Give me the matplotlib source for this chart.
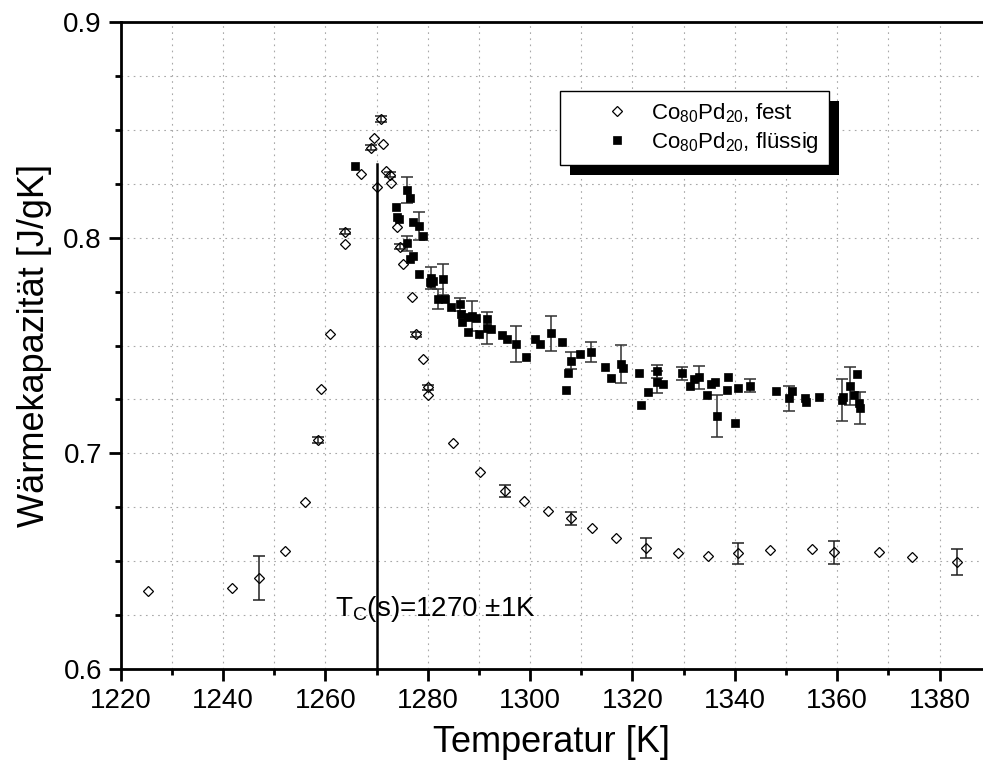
import numpy as np
import matplotlib
matplotlib.use("Agg")
import matplotlib.pyplot as plt
from matplotlib.ticker import MultipleLocator
from matplotlib.patches import Rectangle
from matplotlib.transforms import IdentityTransform

plt.rcParams['font.family'] = ['Liberation Sans', 'DejaVu Sans']
plt.rcParams['mathtext.fontset'] = 'custom'
plt.rcParams['mathtext.rm'] = 'Liberation Sans'
plt.rcParams['mathtext.it'] = 'Liberation Sans:italic'
plt.rcParams['mathtext.bf'] = 'Liberation Sans:bold'
plt.rcParams['mathtext.default'] = 'regular'

# ------------------ data ------------------

# Co80Pd20 solid (open diamonds)
fest_T = [1225.3, 1241.7, 1247.0, 1252.2, 1256.1, 1258.6, 1259.1, 1260.8, 1263.9, 1263.9,
          1266.9, 1268.9, 1269.5, 1270.0, 1270.8, 1271.2, 1271.9, 1272.6, 1272.8, 1274.0,
          1274.6, 1275.2, 1277.0, 1277.7, 1279.0, 1280.0, 1280.0, 1285.0, 1290.2, 1295.1,
          1298.8, 1303.4, 1307.9, 1312.1, 1316.7, 1322.6, 1328.9, 1334.8, 1340.6, 1346.8,
          1355.1, 1359.3, 1368.1, 1374.7, 1383.5]
fest_cp = [0.6363, 0.6376, 0.6422, 0.6548, 0.6774, 0.7062, 0.7300, 0.7555, 0.8027, 0.7969,
           0.8295, 0.8417, 0.8460, 0.8233, 0.8550, 0.8434, 0.8308, 0.8292, 0.8252, 0.8050,
           0.7958, 0.7880, 0.7724, 0.7553, 0.7437, 0.7306, 0.7270, 0.7046, 0.6915, 0.6825,
           0.6780, 0.6734, 0.6699, 0.6652, 0.6606, 0.6560, 0.6536, 0.6525, 0.6536, 0.6552,
           0.6556, 0.6541, 0.6541, 0.6518, 0.6495]
fest_err = [0, 0, 0.0103, 0, 0, 0.0012, 0, 0, 0.0012, 0,
            0, 0.0012, 0, 0, 0.0012, 0, 0, 0.0012, 0, 0,
            0.0012, 0, 0, 0.0012, 0, 0.0012, 0, 0, 0, 0.0027,
            0, 0, 0.003, 0, 0, 0.0046, 0, 0, 0.005, 0,
            0, 0.0052, 0, 0, 0.006]

# Co80Pd20 liquid (filled squares)
fl_T = [1265.8, 1273.7, 1273.9, 1274.4, 1275.9, 1276.0, 1276.5, 1276.6, 1277.2, 1277.2,
        1278.3, 1278.3, 1279.1, 1280.4, 1280.7, 1280.7, 1281.1, 1282.0, 1282.9, 1283.3,
        1284.6, 1286.3, 1286.4, 1286.7, 1287.8, 1287.8, 1288.7, 1289.5, 1290.0, 1291.5,
        1291.6, 1292.3, 1294.6, 1295.4, 1297.2, 1299.2, 1300.9, 1301.9, 1304.0, 1306.3,
        1307.1, 1307.4, 1308.0, 1309.7, 1311.9, 1314.7, 1315.8, 1317.7, 1318.1, 1321.3,
        1321.7, 1323.0, 1324.7, 1324.8, 1325.9, 1329.7, 1331.3, 1332.0, 1333.0, 1334.6,
        1335.4, 1336.2, 1336.6, 1338.4, 1338.7, 1340.1, 1340.6, 1343.0, 1348.0, 1350.6,
        1351.1, 1353.7, 1354.0, 1356.4, 1360.9, 1361.2, 1362.5, 1363.2, 1363.9, 1364.2,
        1364.4]
fl_cp = [0.8331, 0.8143, 0.8094, 0.8085, 0.8221, 0.7974, 0.7900, 0.8185, 0.8073, 0.7915,
         0.8054, 0.7830, 0.8009, 0.7796, 0.7814, 0.7788, 0.7799, 0.7715, 0.7807, 0.7715,
         0.7677, 0.7692, 0.7646, 0.7610, 0.7633, 0.7564, 0.7638, 0.7626, 0.7553, 0.7580,
         0.7621, 0.7575, 0.7548, 0.7529, 0.7507, 0.7445, 0.7529, 0.7507, 0.7556, 0.7515,
         0.7293, 0.7371, 0.7429, 0.7460, 0.7471, 0.7399, 0.7348, 0.7414, 0.7394, 0.7374,
         0.7225, 0.7283, 0.7380, 0.7332, 0.7321, 0.7371, 0.7314, 0.7344, 0.7352, 0.7270,
         0.7321, 0.7330, 0.7174, 0.7293, 0.7355, 0.7139, 0.7301, 0.7313, 0.7289, 0.7255,
         0.7290, 0.7255, 0.7240, 0.7260, 0.7247, 0.7262, 0.7312, 0.7270, 0.7366, 0.7232,
         0.7209]
fl_err = [0, 0, 0, 0, 0.0059, 0.0036, 0, 0, 0, 0,
          0.0063, 0, 0, 0, 0.005, 0, 0, 0.0045, 0.0072, 0,
          0, 0.003, 0, 0, 0, 0, 0.007, 0, 0, 0.0075,
          0, 0, 0, 0, 0.0083, 0, 0, 0, 0.008, 0,
          0, 0, 0.004, 0, 0.0046, 0, 0, 0.0087, 0, 0,
          0, 0, 0.003, 0.005, 0, 0.003, 0, 0, 0.0055, 0,
          0, 0, 0.0098, 0, 0, 0, 0, 0.003, 0, 0.0057,
          0, 0, 0, 0, 0.0096, 0, 0.009, 0, 0, 0,
          0.0075]

label_fest = 'Co$_{80}$Pd$_{20}$, fest'
label_fl = 'Co$_{80}$Pd$_{20}$, flüssig'
tc_value = 1270
tc_text = 'T$_{C}$(s)=1270 ±1K'

# ------------------ plotting ------------------

fig = plt.figure(figsize=(9.83, 7.73), dpi=100)
ax = fig.add_axes([0.1228, 0.1345, 0.8772, 0.837])

grid_style = dict(color='#a8a8a8', linewidth=0.8, linestyle=(0, (1.5, 4)))
ax.xaxis.set_major_locator(MultipleLocator(20))
ax.xaxis.set_minor_locator(MultipleLocator(10))
ax.yaxis.set_major_locator(MultipleLocator(0.1))
ax.yaxis.set_minor_locator(MultipleLocator(0.025))
ax.grid(True, which='both', **grid_style)
ax.set_axisbelow(True)

fest_T = np.array(fest_T); fest_cp = np.array(fest_cp); fest_err = np.array(fest_err)
fl_T = np.array(fl_T); fl_cp = np.array(fl_cp); fl_err = np.array(fl_err)

m = fest_err > 0
ax.errorbar(fest_T[m], fest_cp[m], yerr=fest_err[m], fmt='none', ecolor='#202020',
            elinewidth=1.1, capsize=4.2, capthick=1.1, zorder=2)
m = fl_err > 0
ax.errorbar(fl_T[m], fl_cp[m], yerr=fl_err[m], fmt='none', ecolor='#303030',
            elinewidth=1.1, capsize=4.2, capthick=1.1, zorder=2)

ax.plot(fest_T, fest_cp, linestyle='none', marker='D', markersize=5.4,
        markerfacecolor='none', markeredgecolor='black', markeredgewidth=0.9,
        label=label_fest, zorder=3)
ax.plot(fl_T, fl_cp, linestyle='none', marker='s', markersize=6.4,
        markerfacecolor='black', markeredgecolor='black', markeredgewidth=0.5,
        label=label_fl, zorder=3)

ax.plot([tc_value, tc_value], [0.6, 0.834], color='black', linewidth=1.8, zorder=4)
ax.text(1261.9, 0.6248, tc_text, fontsize=20, va='baseline', ha='left', zorder=5)

ax.set_xlim(1220, 1388.5)
ax.set_ylim(0.6, 0.9)
ax.set_xticks([1220, 1240, 1260, 1280, 1300, 1320, 1340, 1360, 1380])
ax.set_yticks([0.6, 0.7, 0.8, 0.9])
ax.set_yticklabels(['0.6', '0.7', '0.8', '0.9'])

for side in ['left', 'bottom', 'top']:
    ax.spines[side].set_linewidth(2.0)
ax.spines['right'].set_visible(False)
ax.tick_params(which='major', direction='out', length=8.5, width=2.0, labelsize=20, pad=5)
ax.tick_params(which='minor', direction='out', length=4.5, width=2.0)
ax.tick_params(top=False, right=False)

ax.set_xlabel('Temperatur [K]', fontsize=26, labelpad=8)
ax.set_ylabel('Wärmekapazität [J/gK]', fontsize=26, labelpad=8)

leg = ax.legend(loc='upper left', bbox_to_anchor=(0.5094, 0.8934), borderaxespad=0,
                fontsize=16, frameon=True, fancybox=False, edgecolor='black',
                framealpha=1, borderpad=0.45, labelspacing=0.25, handlelength=4.2,
                handletextpad=-0.55, markerscale=1.0)
leg.get_frame().set_linewidth(1.0)
leg.set_zorder(6)

# black drop shadow behind the legend box
fig.canvas.draw()
bb = leg.get_window_extent()
shadow = Rectangle((bb.x0 + 10, bb.y0 - 10), bb.width, bb.height, transform=IdentityTransform(),
                   facecolor='black', edgecolor='none', zorder=5.5, clip_on=False)
ax.add_artist(shadow)

fig.savefig('out.png', dpi=100)
